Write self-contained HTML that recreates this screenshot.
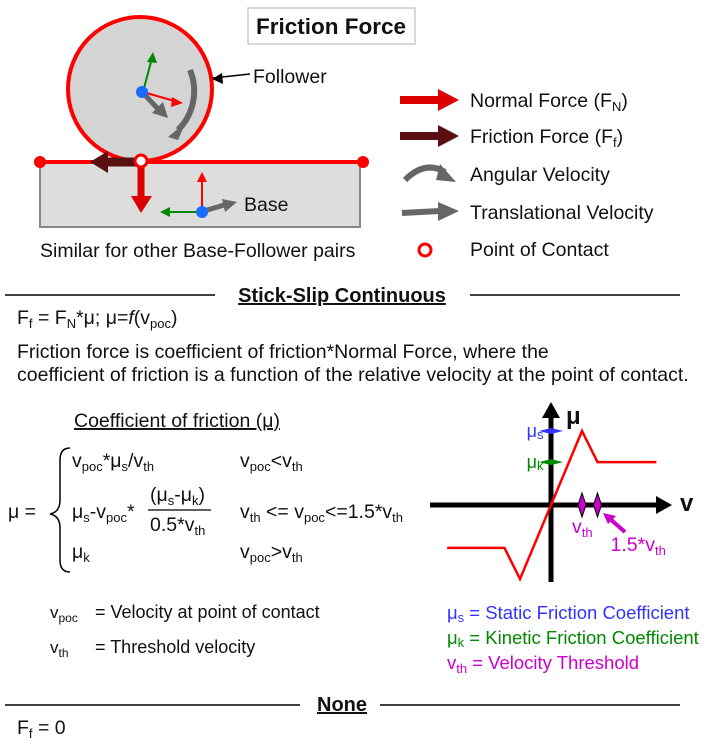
<!DOCTYPE html>
<html><head><meta charset="utf-8"><style>
body{margin:0;background:#fff}
svg{display:block;font-family:"Liberation Sans",sans-serif}
text{font-size:19.5px;fill:#111}
</style></head><body>
<svg width="714" height="749" viewBox="0 0 714 749">
<g>
<rect x="248" y="8" width="167" height="36" fill="#fff" stroke="#ccc" stroke-width="1.5"/>
<text x="331" y="34" text-anchor="middle" style="font-size:22.5px;font-weight:bold">Friction Force</text>
</g>
<g>
<rect x="40" y="163" width="320" height="64" fill="#ddd" stroke="#888" stroke-width="2"/>
<circle cx="140" cy="89" r="72" fill="#d4d4d4" stroke="#f00" stroke-width="4"/>
<line x1="40" y1="162" x2="363" y2="162" stroke="#f00" stroke-width="4"/>
<circle cx="40" cy="162" r="6" fill="#f00"/><circle cx="363" cy="162" r="6" fill="#f00"/>
<path d="M190,70 A55,55 0 0 1 178,130" fill="none" stroke="#666" stroke-width="6"/>
<path d="M168,137 L186,122 L178,140z" fill="#666"/>
<line x1="143" y1="93" x2="160" y2="111" stroke="#666" stroke-width="5"/><path d="M152,113L168,118L163,102z" fill="#666"/>
<line x1="143" y1="92" x2="178" y2="102" stroke="#f00" stroke-width="2"/><path d="M183,103L172,97L171,107z" fill="#f00"/>
<line x1="143" y1="92" x2="152" y2="58" stroke="#080" stroke-width="2"/><path d="M153,52L147,62L157,63z" fill="#080"/>
<circle cx="142" cy="92" r="6" fill="#1a6cff"/>
<line x1="213" y1="78" x2="250" y2="74" stroke="#000" stroke-width="1.5"/><path d="M212,79L222,73L223,84z" fill="#000"/>
<text x="253" y="83">Follower</text>
<line x1="136" y1="162" x2="108" y2="162" stroke="#5a1010" stroke-width="9"/><path d="M90,162L108,151L108,173z" fill="#5a1010"/>
<line x1="141" y1="167" x2="141" y2="198" stroke="#d00" stroke-width="7"/><path d="M131,196L152,196L141,213z" fill="#d00"/>
<circle cx="141" cy="161" r="6" fill="#fff" stroke="#f00" stroke-width="3"/>
<line x1="202" y1="212" x2="202" y2="180" stroke="#f00" stroke-width="2"/><path d="M202,172L197,182L207,182z" fill="#f00"/>
<line x1="202" y1="212" x2="170" y2="212" stroke="#080" stroke-width="2"/><path d="M160,212L170,207L170,217z" fill="#080"/>
<line x1="204" y1="211" x2="224" y2="205" stroke="#666" stroke-width="5"/><path d="M237,202L222,199L225,212z" fill="#666"/>
<circle cx="202" cy="212" r="6" fill="#1a6cff"/>
<text x="244" y="211">Base</text>
<text x="40" y="257">Similar for other Base-Follower pairs</text>
</g>
<g>
<g><line x1="400" y1="100" x2="440" y2="100" stroke="#d00" stroke-width="8"/><path d="M438,89L459,100L438,111z" fill="#d00"/><text x="470" y="107">Normal Force (F<tspan dy="4" style="font-size:13px">N</tspan><tspan dy="-4">)</tspan></text></g>
<g><line x1="400" y1="136" x2="440" y2="136" stroke="#5a1010" stroke-width="8"/><path d="M438,125L459,136L438,147z" fill="#5a1010"/><text x="470" y="143">Friction Force (F<tspan dy="4" style="font-size:13px">f</tspan><tspan dy="-4">)</tspan></text></g>
<g><path d="M405,180 Q425,160 445,172" fill="none" stroke="#666" stroke-width="6"/><path d="M440,164L456,182L436,180z" fill="#666"/><text x="470" y="181">Angular Velocity</text></g>
<g><line x1="402" y1="213" x2="440" y2="211" stroke="#666" stroke-width="6"/><path d="M438,202L459,211L438,221z" fill="#666"/><text x="470" y="219">Translational Velocity</text></g>
<g><circle cx="425" cy="250" r="6" fill="#fff" stroke="#f00" stroke-width="3"/><text x="470" y="256">Point of Contact</text></g>
</g>
<line x1="5" y1="295" x2="215" y2="295" stroke="#000" stroke-width="1.5"/>
<line x1="470" y1="295" x2="680" y2="295" stroke="#000" stroke-width="1.5"/>
<text x="342" y="302" text-anchor="middle" style="font-size:20px;font-weight:bold;text-decoration:underline">Stick-Slip Continuous</text>
<text x="17" y="324">F<tspan dy="4" style="font-size:13px">f</tspan><tspan dy="-4">  = F</tspan><tspan dy="4" style="font-size:13px">N</tspan><tspan dy="-4">*μ; μ=</tspan><tspan style="font-style:italic">f</tspan>(v<tspan dy="4" style="font-size:13px">poc</tspan><tspan dy="-4">)</tspan></text>
<text x="17" y="358">Friction force is coefficient of friction*Normal Force, where the</text>
<text x="17" y="381">coefficient of friction is a function of the relative velocity at the point of contact.</text>
<g>
<text x="74" y="427" style="text-decoration:underline">Coefficient of friction (μ)</text>
<text x="8" y="518">μ =</text>
<path d="M70,448 Q60,448 60,460 L60,500 Q60,512 50,514 Q60,516 60,528 L60,560 Q60,572 70,572" fill="none" stroke="#000" stroke-width="1.5"/>
<text x="72" y="467">v<tspan dy="4" style="font-size:13px">poc</tspan><tspan dy="-4">*μ</tspan><tspan dy="4" style="font-size:13px">s</tspan><tspan dy="-4">/v</tspan><tspan dy="4" style="font-size:13px">th</tspan></text>
<text x="240" y="467">v<tspan dy="4" style="font-size:13px">poc</tspan><tspan dy="-4">&lt;v</tspan><tspan dy="4" style="font-size:13px">th</tspan></text>
<text x="72" y="518">μ<tspan dy="4" style="font-size:13px">s</tspan><tspan dy="-4">-v</tspan><tspan dy="4" style="font-size:13px">poc</tspan><tspan dy="-4">*</tspan></text>
<text x="150" y="501">(μ<tspan dy="4" style="font-size:13px">s</tspan><tspan dy="-4">-μ</tspan><tspan dy="4" style="font-size:13px">k</tspan><tspan dy="-4">)</tspan></text>
<line x1="148" y1="510" x2="211" y2="510" stroke="#000" stroke-width="1.2"/>
<text x="150" y="531">0.5*v<tspan dy="4" style="font-size:13px">th</tspan></text>
<text x="240" y="518">v<tspan dy="4" style="font-size:13px">th</tspan><tspan dy="-4"> &lt;= v</tspan><tspan dy="4" style="font-size:13px">poc</tspan><tspan dy="-4">&lt;=1.5*v</tspan><tspan dy="4" style="font-size:13px">th</tspan></text>
<text x="72" y="558">μ<tspan dy="4" style="font-size:13px">k</tspan></text>
<text x="240" y="558">v<tspan dy="4" style="font-size:13px">poc</tspan><tspan dy="-4">&gt;v</tspan><tspan dy="4" style="font-size:13px">th</tspan></text>
<text x="50" y="618" style="font-size:17px">v<tspan dy="4" style="font-size:12px">poc</tspan></text><text x="95" y="618" style="font-size:18px">= Velocity at point of contact</text>
<text x="50" y="653" style="font-size:17px">v<tspan dy="4" style="font-size:12px">th</tspan></text><text x="95" y="653" style="font-size:18px">= Threshold velocity</text>
</g>
<g id="chart"></g>
<g>
<text x="447" y="619" style="font-size:18.5px;fill:#33f">μ<tspan dy="3" style="font-size:13px;fill:#33f">s</tspan><tspan dy="-3" style="fill:#33f">  = Static Friction Coefficient</tspan></text>
<text x="447" y="644" style="font-size:18.5px;fill:#080">μ<tspan dy="3" style="font-size:13px;fill:#080">k</tspan><tspan dy="-3" style="fill:#080">  = Kinetic Friction Coefficient</tspan></text>
<text x="447" y="669" style="font-size:18.5px;fill:#c0c">v<tspan dy="4" style="font-size:13px;fill:#c0c">th</tspan><tspan dy="-4" style="fill:#c0c">  = Velocity Threshold</tspan></text>
</g>
<line x1="5" y1="705" x2="300" y2="705" stroke="#000" stroke-width="1.5"/>
<line x1="380" y1="705" x2="680" y2="705" stroke="#000" stroke-width="1.5"/>
<text x="342" y="711" text-anchor="middle" style="font-size:20px;font-weight:bold;text-decoration:underline">None</text>
<text x="17" y="734">F<tspan dy="4" style="font-size:13px">f</tspan><tspan dy="-4"> = 0</tspan></text>
</svg>
<script>
const velocities = [-3.35, -1.5, -1, 0, 1, 1.5, 3.4];
const muValues = [-0.58, -0.58, -1, 0, 1, 0.58, 0.58];
const muLevels = [1, 0.58];
const muLevelNames = ['μs', 'μk'];
const vMarks = [1, 1.5];
const NS = 'http://www.w3.org/2000/svg';
const ox = 551, oy = 505, vs = 31, ms = 74;
const X = v => ox + v * vs;
const Y = m => oy - m * ms;
const g = document.getElementById('chart');
function mk(tag, attrs) { const e = document.createElementNS(NS, tag); for (const k in attrs) e.setAttribute(k, attrs[k]); g.appendChild(e); return e; }
let e;
e = mk('line', {x1: 430, y1: oy, x2: 660, y2: oy, stroke: '#000', 'stroke-width': 5});


mk('path', {d: `M656,${oy-9}L672,${oy}L656,${oy+9}z`, fill: '#000'});
e = mk('line', {x1: ox, y1: 582, x2: ox, y2: 415, stroke: '#000', 'stroke-width': 5});


mk('path', {d: `M${ox-9},418L${ox},402L${ox+9},418z`, fill: '#000'});
e = mk('text', {x: 566, y: 424, style: 'font-size:24px;font-weight:bold'}); e.textContent = 'μ';


e = mk('text', {x: 680, y: 511, style: 'font-size:24px;font-weight:bold'}); e.textContent = 'v';


const cols = ['#33f', '#080'];
muLevels.forEach((m, i) => {
  const y = Y(m);
  e = mk('path', {d: `M${ox-12},${y}L${ox},${y-3}L${ox+12},${y}L${ox},${y+3}z`, fill: cols[i]});
  
  
  const t = mk('text', {x: ox - 16, y: y + 6, 'text-anchor': 'middle', style: 'font-size:18px;fill:' + cols[i]});
  t.innerHTML = 'μ<tspan dy="2" style="font-size:13px;fill:' + cols[i] + '">' + muLevelNames[i].slice(1) + '</tspan>';
});
vMarks.forEach(v => {
  const x = X(v);
  e = mk('path', {d: `M${x},${oy-12}L${x+4},${oy}L${x},${oy+12}L${x-4},${oy}z`, fill: '#c0c', stroke: '#000', 'stroke-width': 1});
  
  
});
e = mk('text', {x: X(vMarks[0]) - 10, y: oy + 28, style: 'fill:#c0c'}); e.innerHTML = 'v<tspan dy="4" style="font-size:13px;fill:#c0c">th</tspan>';
e = mk('text', {x: X(vMarks[1]) + 13, y: oy + 46, style: 'fill:#c0c'}); e.innerHTML = '1.5*v<tspan dy="4" style="font-size:13px;fill:#c0c">th</tspan>';
mk('line', {x1: 625, y1: 532, x2: 609, y2: 518, stroke: '#c0c', 'stroke-width': 4});
mk('path', {d: 'M603,513L616,516L608,524z', fill: '#c0c'});
e = mk('polyline', {points: velocities.map((v, i) => X(v) + ',' + Y(muValues[i])).join(' '), fill: 'none', stroke: '#f00', 'stroke-width': 2.5});


</script>
</body></html>
